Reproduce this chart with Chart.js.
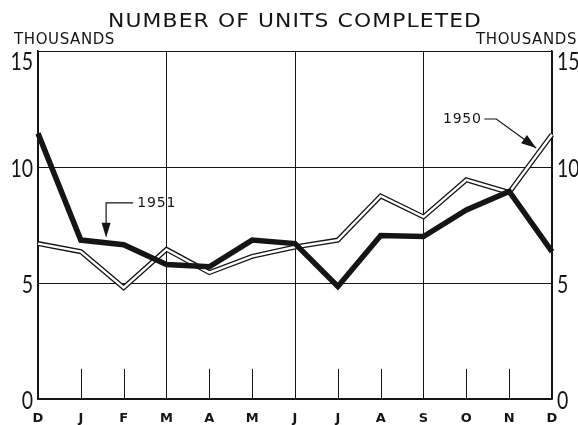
<!DOCTYPE html>
<html>
<head>
<meta charset="utf-8">
<script src="https://cdn.jsdelivr.net/npm/chart.js@4"></script>
<style>
  html, body { margin: 0; padding: 0; background: #fff; }
  #wrap { width: 578px; height: 425px; position: relative; }
</style>
</head>
<body>
<div id="wrap"><canvas id="grafico"></canvas></div>
<script>
// data (thousands of units)
const months = ['D', 'J', 'F', 'M', 'A', 'M', 'J', 'J', 'A', 'S', 'O', 'N', 'D'];
const units1951 = [11.45, 6.85, 6.65, 5.8, 5.7, 6.85, 6.7, 4.85, 7.05, 7.0, 8.15, 8.95, 6.35];
const units1950 = [6.7, 6.35, 4.8, 6.45, 5.45, 6.15, 6.55, 6.85, 8.75, 7.85, 9.45, 8.9, 11.4];
const yTicks = [0, 5, 10, 15];

const INK = '#151515';

// small tick marks inside the plot, y numbers, title and the two arrow notes
const extras = {
    id: 'extras',
    beforeDatasetsDraw(chart) {
        const ctx = chart.ctx;
        const x = chart.scales.x, y = chart.scales.y;
        ctx.save();
        ctx.strokeStyle = INK;
        ctx.lineWidth = 1;
        months.forEach(function(m, i) {
            if (i % 3 === 0) return;
            const px = Math.round(x.getPixelForValue(i)) + 0.5;
            ctx.beginPath();
            ctx.moveTo(px, y.getPixelForValue(0));
            ctx.lineTo(px, y.getPixelForValue(1.3));
            ctx.stroke();
        });
        ctx.restore();
    },
    afterDraw(chart) {
        const ctx = chart.ctx;
        const x = chart.scales.x, y = chart.scales.y;
        const a = chart.chartArea;
        ctx.save();
        ctx.fillStyle = INK;
        ctx.strokeStyle = INK;
        ctx.textBaseline = 'alphabetic';

        // title, lettering is wide so stretch it a bit
        ctx.save();
        ctx.font = '19.5px "DejaVu Sans"';
        ctx.letterSpacing = '1px';
        ctx.textAlign = 'left';
        ctx.translate(108, 26.5);
        ctx.scale(1.12, 1);
        ctx.fillText('NUMBER OF UNITS COMPLETED', 0, 0);
        ctx.restore();

        ctx.font = '15px "DejaVu Sans"';
        ctx.letterSpacing = '0.6px';
        ctx.textAlign = 'left';
        ctx.fillText('THOUSANDS', 14, 43.5);
        ctx.textAlign = 'right';
        ctx.fillText('THOUSANDS', 577, 43.5);
        ctx.letterSpacing = '0px';

        // y numbers, narrow, on both sides
        ctx.font = '25px Lato';
        ctx.textBaseline = 'middle';
        yTicks.forEach(function(v) {
            const py = y.getPixelForValue(v) + (v === 15 ? 11 : 2);
            ctx.save();
            ctx.translate(a.left - 5, py);
            ctx.scale(0.78, 1);
            ctx.textAlign = 'right';
            ctx.fillText(String(v), 0, 0);
            ctx.restore();
            ctx.save();
            ctx.translate(a.right + 5, py);
            ctx.scale(0.78, 1);
            ctx.textAlign = 'left';
            ctx.fillText(String(v), 0, 0);
            ctx.restore();
        });

        // 1951 note
        ctx.lineWidth = 1.2;
        const ax = x.getPixelForValue(1.59);
        const ay = y.getPixelForValue(8.45);
        ctx.beginPath();
        ctx.moveTo(x.getPixelForValue(2.22), ay);
        ctx.lineTo(ax, ay);
        ctx.lineTo(ax, y.getPixelForValue(7.5));
        ctx.stroke();
        ctx.beginPath();
        ctx.moveTo(ax - 4.5, y.getPixelForValue(7.6));
        ctx.lineTo(ax + 4.5, y.getPixelForValue(7.6));
        ctx.lineTo(ax, y.getPixelForValue(6.95));
        ctx.closePath();
        ctx.fill();
        ctx.font = '14px "DejaVu Sans"';
        ctx.letterSpacing = '0.8px';
        ctx.textAlign = 'left';
        ctx.textBaseline = 'middle';
        ctx.fillText('1951', x.getPixelForValue(2.32), ay);

        // 1950 note
        const by = y.getPixelForValue(12.07);
        const kx = x.getPixelForValue(10.7);
        const tx = x.getPixelForValue(11.63), ty = y.getPixelForValue(10.82);
        ctx.textAlign = 'right';
        ctx.fillText('1950', x.getPixelForValue(10.36), by);
        ctx.letterSpacing = '0px';
        ctx.beginPath();
        ctx.moveTo(x.getPixelForValue(10.42), by);
        ctx.lineTo(kx, by);
        ctx.lineTo(tx, ty);
        ctx.stroke();
        const ang = Math.atan2(ty - by, tx - kx);
        const len = 15, half = 5;
        const bx = tx - len * Math.cos(ang), byy = ty - len * Math.sin(ang);
        ctx.beginPath();
        ctx.moveTo(tx, ty);
        ctx.lineTo(bx - half * Math.sin(ang), byy + half * Math.cos(ang));
        ctx.lineTo(bx + half * Math.sin(ang), byy - half * Math.cos(ang));
        ctx.closePath();
        ctx.fill();
        ctx.restore();
    }
};

const ctx = document.getElementById('grafico').getContext('2d');
const myChart = new Chart(ctx, {
    type: 'line',
    data: {
        labels: months,
        datasets: [{
            label: '1951',
            data: units1951,
            borderColor: INK,
            borderWidth: 5.5,
            pointRadius: 0,
            tension: 0,
            fill: false,
            order: 0
        }, {
            label: '1950 inner',
            data: units1950,
            borderColor: '#ffffff',
            borderWidth: 2.4,
            pointRadius: 0,
            tension: 0,
            fill: false,
            order: 1
        }, {
            label: '1950',
            data: units1950,
            borderColor: INK,
            borderWidth: 5,
            pointRadius: 0,
            tension: 0,
            fill: false,
            order: 2
        }]
    },
    options: {
        responsive: true,
        maintainAspectRatio: false,
        animation: false,
        layout: { padding: { top: 51, left: 0, right: 0, bottom: 0 } },
        plugins: {
            legend: { display: false },
            tooltip: { enabled: false }
        },
        scales: {
            x: {
                offset: false,
                grid: {
                    drawTicks: false,
                    color: function(c) { return c.index % 3 === 0 ? INK : 'rgba(0,0,0,0)'; },
                    lineWidth: 1
                },
                border: { color: INK, width: 1.5 },
                ticks: {
                    autoSkip: false,
                    maxRotation: 0,
                    padding: 12,
                    color: INK,
                    font: { family: 'DejaVu Sans', size: 13, weight: 'bold' }
                },
                afterFit: function(s) { s.height = 26; }
            },
            y: {
                position: 'left',
                min: 0,
                max: 15,
                afterBuildTicks: function(s) { s.ticks = yTicks.map(function(v) { return { value: v }; }); },
                grid: { drawTicks: false, color: INK, lineWidth: 1 },
                border: { color: INK, width: 1.5 },
                ticks: { display: false },
                afterFit: function(s) { s.width = 38; }
            },
            y2: {
                position: 'right',
                min: 0,
                max: 15,
                afterBuildTicks: function(s) { s.ticks = yTicks.map(function(v) { return { value: v }; }); },
                grid: { drawTicks: false, drawOnChartArea: false },
                border: { color: INK, width: 1.5 },
                ticks: { display: false },
                afterFit: function(s) { s.width = 26; }
            }
        }
    },
    plugins: [extras]
});
</script>
</body>
</html>
